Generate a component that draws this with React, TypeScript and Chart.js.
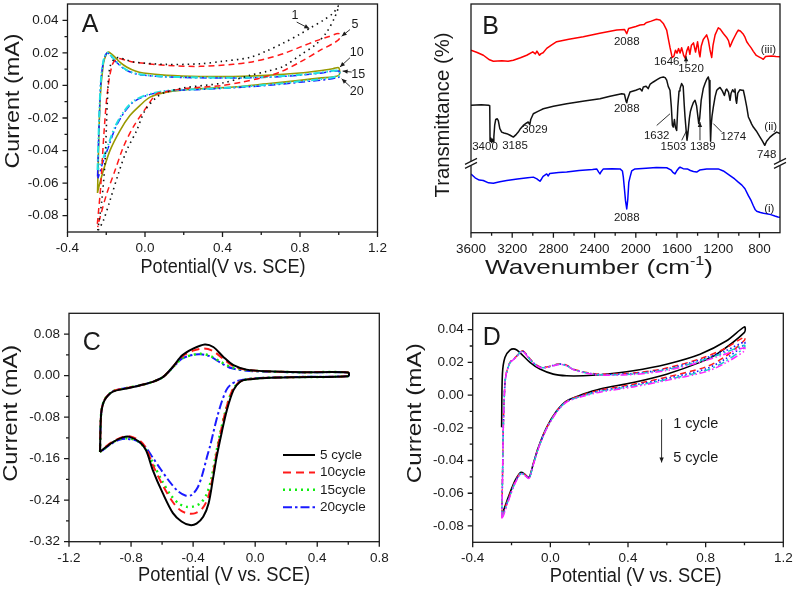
import React, { useEffect, useRef } from 'react';
import { Chart, registerables } from 'chart.js';

Chart.register(...registerables);

const FONT = "'Liberation Sans', Arial, Helvetica, sans-serif";
const INK = '#1a1a1a';

type Pt = [number, number];

// ---------------- Panel A data (potential V, current mA) ----------------
const A_CYCLE1: Pt[] = [
  [-0.244, -0.089], [-0.223, -0.0708], [-0.206, -0.046], [-0.194, -0.0092], [-0.181, 0.0113], [-0.147, 0.017],
  [-0.061, 0.0144], [0.112, 0.0129], [0.284, 0.0133], [0.4, 0.0148], [0.542, 0.0172], [0.628, 0.0212],
  [0.714, 0.026], [0.8, 0.0315], [0.852, 0.0352], [0.92, 0.04], [0.972, 0.0445], [1.0, 0.049],
  [0.98, 0.042], [0.938, 0.0328], [0.886, 0.0256], [0.8, 0.0185], [0.714, 0.0117], [0.628, 0.0086],
  [0.542, 0.0062], [0.4, 0.0015], [0.2, -0.0015], [0.1, -0.0045], [0.06, -0.0072], [0.0, -0.0154],
  [-0.043, -0.0277], [-0.095, -0.04], [-0.138, -0.0544], [-0.181, -0.0708], [-0.215, -0.083], [-0.241, -0.089],
];
const A_CYCLE5: Pt[] = [
  [-0.246, -0.085], [-0.229, -0.0626], [-0.212, -0.0297], [-0.195, -0.0051], [-0.17, 0.0123], [-0.144, 0.0165],
  [-0.1, 0.0155], [-0.061, 0.0144], [0.112, 0.0123], [0.284, 0.0117], [0.456, 0.013], [0.542, 0.0143],
  [0.628, 0.0165], [0.714, 0.0195], [0.8, 0.0235], [0.886, 0.0275], [0.95, 0.03], [1.0, 0.0318],
  [1.0, 0.0281], [0.903, 0.0215], [0.8, 0.0143], [0.697, 0.0082], [0.594, 0.0045], [0.5, 0.002], [0.4, 0.0],
  [0.2, -0.002], [0.1, -0.0041], [0.06, -0.0051], [0.008, -0.0133], [-0.061, -0.0256], [-0.112, -0.0379],
  [-0.155, -0.0523], [-0.198, -0.0667], [-0.232, -0.081], [-0.244, -0.087],
];
const A_CYCLE10: Pt[] = [
  [-0.245, -0.066], [-0.232, -0.0092], [-0.215, 0.0133], [-0.2, 0.019], [-0.189, 0.0205], [-0.175, 0.0195],
  [-0.155, 0.0174], [-0.125, 0.0138], [-0.095, 0.0113], [-0.05, 0.0088], [-0.009, 0.0076], [0.112, 0.0062],
  [0.284, 0.0055], [0.456, 0.0055], [0.628, 0.0062], [0.8, 0.0076], [0.9, 0.009], [0.972, 0.0103], [1.0, 0.0109],
  [1.0, 0.0062], [0.9, 0.0045], [0.8, 0.0031], [0.628, 0.001], [0.456, -0.001], [0.284, -0.002], [0.112, -0.0041],
  [0.026, -0.0072], [-0.026, -0.0123], [-0.078, -0.0185], [-0.129, -0.0277], [-0.181, -0.04], [-0.215, -0.0523],
  [-0.241, -0.0636], [-0.245, -0.066],
];
const A_CYCLE15: Pt[] = [
  [-0.245, -0.052], [-0.236, -0.018], [-0.227, 0.004], [-0.214, 0.0155], [-0.2, 0.0198], [-0.19, 0.02],
  [-0.175, 0.0182], [-0.15, 0.0148], [-0.1, 0.0098], [-0.05, 0.0074], [0.0, 0.0064], [0.112, 0.0054],
  [0.284, 0.0049], [0.456, 0.0047], [0.628, 0.0052], [0.8, 0.0065], [0.9, 0.0078], [1.0, 0.009],
  [1.0, 0.0058], [0.8, 0.0025], [0.628, 0.0004], [0.456, -0.0012], [0.284, -0.0023], [0.112, -0.0033],
  [0.009, -0.0058], [-0.061, -0.0098], [-0.112, -0.0165], [-0.155, -0.0255], [-0.189, -0.0362],
  [-0.215, -0.0445], [-0.241, -0.051], [-0.245, -0.052],
];
const A_CYCLE20: Pt[] = [
  [-0.245, -0.056], [-0.236, -0.02], [-0.228, 0.002], [-0.215, 0.0145], [-0.2, 0.0195], [-0.19, 0.0198],
  [-0.175, 0.018], [-0.15, 0.0145], [-0.1, 0.0095], [-0.05, 0.0072], [0.0, 0.0062], [0.112, 0.0052],
  [0.284, 0.0047], [0.456, 0.0045], [0.628, 0.005], [0.8, 0.0063], [0.9, 0.0075], [1.0, 0.0088],
  [1.0, 0.005], [0.8, 0.002], [0.628, 0.0], [0.456, -0.0014], [0.284, -0.0025], [0.112, -0.0035],
  [0.009, -0.0062], [-0.061, -0.0103], [-0.112, -0.0174], [-0.155, -0.0267], [-0.189, -0.038],
  [-0.215, -0.0462], [-0.241, -0.0564], [-0.245, -0.057],
];
const A_X_MAJOR = [-0.4, 0, 0.4, 0.8, 1.2];
const A_X_MINOR = [-0.2, 0.2, 0.6, 1.0];
const A_Y_MAJOR = [-0.08, -0.06, -0.04, -0.02, 0, 0.02, 0.04];
const A_Y_MINOR = [-0.07, -0.05, -0.03, -0.01, 0.01, 0.03];
const A_LABELS = [
  { t: '1', x: 0.774, y: 0.0431 },
  { t: '5', x: 1.084, y: 0.0375 },
  { t: '10', x: 1.093, y: 0.0199 },
  { t: '15', x: 1.101, y: 0.0068 },
  { t: '20', x: 1.093, y: -0.0035 },
];
const A_LEADERS: [number, number, number, number][] = [
  [0.783, 0.0389, 0.848, 0.0349],
  [1.058, 0.0343, 1.015, 0.0302],
  [1.058, 0.017, 1.006, 0.0113],
  [1.067, 0.0082, 1.02, 0.0088],
  [1.058, -0.0006, 1.015, 0.0041],
];

// ---------------- Panel B data (wavenumber cm-1, transmittance a.u.) ----------------
const B_III: Pt[] = [
  [3600, 79.8], [3540, 78.8], [3480, 77.6], [3420, 75.6], [3383, 75.0], [3300, 75.2], [3240, 75.0], [3189, 75.4],
  [3120, 76.5], [3059, 77.6], [3000, 79.1], [2975, 78.2], [2960, 79.4], [2935, 77.6], [2920, 78.3], [2900, 78.7],
  [2865, 80.6], [2820, 82.0], [2768, 83.5], [2650, 84.6], [2510, 85.7], [2350, 87.2], [2185, 88.6], [2110, 88.9],
  [2088, 87.0], [2070, 89.3], [2000, 90.2], [1959, 90.8], [1920, 91.0], [1900, 91.8], [1850, 92.5], [1800, 93.3],
  [1765, 93.0], [1733, 91.5], [1700, 88.6], [1685, 85.0], [1668, 81.0], [1651, 77.5], [1646, 76.6], [1630, 77.2],
  [1615, 79.8], [1600, 78.5], [1585, 80.5], [1570, 78.6], [1555, 80.9], [1535, 77.5], [1520, 76.2], [1505, 79.5],
  [1490, 81.3], [1475, 78.0], [1460, 82.0], [1440, 83.0], [1420, 79.0], [1400, 83.5], [1385, 78.5], [1377, 76.9],
  [1365, 81.5], [1345, 84.5], [1312, 86.5], [1295, 84.0], [1280, 80.0], [1263, 76.6], [1250, 82.0], [1230, 86.5],
  [1199, 89.6], [1180, 89.0], [1150, 87.1], [1120, 85.5], [1100, 84.0], [1085, 81.3], [1060, 84.0], [1037, 86.0],
  [1020, 87.5], [1005, 88.6], [985, 88.2], [960, 87.0], [940, 85.5], [923, 83.5], [900, 82.0], [880, 80.8],
  [859, 79.3], [830, 77.5], [800, 76.8], [780, 76.3], [762, 75.8], [740, 77.0], [716, 77.2], [680, 77.3],
  [640, 77.0], [600, 76.9],
];
const B_II: Pt[] = [
  [3600, 55.7], [3500, 55.9], [3430, 55.7], [3418, 55.5], [3415, 40.0], [3410, 41.5], [3400, 39.5], [3395, 41.0],
  [3385, 39.8], [3378, 42.0], [3370, 47.0], [3360, 49.5], [3345, 49.8], [3335, 49.0], [3320, 45.5], [3302, 44.0],
  [3280, 43.6], [3253, 43.3], [3220, 42.6], [3189, 41.8], [3160, 43.0], [3141, 44.0], [3120, 45.5], [3092, 46.9],
  [3060, 48.0], [3044, 48.4], [3030, 47.2], [3020, 49.5], [2995, 52.0], [2960, 52.8], [2930, 53.5], [2898, 54.2],
  [2800, 55.3], [2671, 56.4], [2500, 57.6], [2348, 58.6], [2250, 59.7], [2137, 60.8], [2110, 60.5], [2095, 57.5],
  [2088, 56.8], [2080, 58.5], [2056, 61.5], [2000, 62.3], [1960, 63.0], [1940, 62.0], [1927, 63.7], [1900, 64.0],
  [1880, 63.0], [1860, 65.0], [1830, 65.9], [1790, 67.0], [1760, 67.8], [1733, 68.1], [1715, 67.8], [1700, 66.7],
  [1685, 64.0], [1668, 62.3], [1655, 55.0], [1645, 47.0], [1636, 46.2], [1625, 49.5], [1615, 46.0], [1603, 44.7],
  [1592, 55.0], [1580, 62.0], [1571, 63.0], [1555, 65.2], [1540, 64.0], [1530, 56.0], [1522, 50.6], [1510, 44.0],
  [1503, 40.4], [1495, 43.0], [1480, 50.0], [1470, 53.0], [1457, 55.0], [1440, 57.0], [1425, 57.9], [1410, 55.5],
  [1395, 50.0], [1389, 47.7], [1380, 50.0], [1365, 58.0], [1345, 63.0], [1328, 65.2], [1312, 67.0], [1296, 68.1],
  [1288, 66.5], [1280, 52.0], [1274, 40.0], [1268, 47.0], [1260, 51.0], [1247, 55.0], [1230, 59.5], [1214, 62.3],
  [1198, 63.0], [1182, 63.5], [1160, 62.0], [1140, 60.0], [1125, 62.5], [1117, 62.8], [1100, 61.5], [1085, 57.9],
  [1075, 61.0], [1060, 62.5], [1045, 61.5], [1037, 62.8], [1028, 58.0], [1021, 56.6], [1010, 61.0], [990, 62.5],
  [970, 62.3], [956, 62.3], [940, 59.0], [923, 55.0], [907, 50.6], [890, 49.0], [875, 47.5], [859, 46.2],
  [830, 44.5], [794, 41.8], [770, 40.0], [748, 38.2], [730, 40.0], [697, 41.8], [665, 43.0], [632, 44.0], [600, 43.3],
];
const B_I: Pt[] = [
  [3600, 25.7], [3560, 24.0], [3520, 23.0], [3481, 22.8], [3430, 21.8], [3383, 21.6], [3320, 22.3], [3253, 22.8],
  [3150, 23.5], [3050, 24.0], [2995, 24.3], [2960, 23.5], [2945, 23.0], [2930, 22.5], [2915, 23.5], [2900, 24.6],
  [2865, 25.7], [2850, 24.8], [2835, 25.9], [2750, 26.3], [2671, 26.5], [2550, 27.2], [2420, 27.6], [2380, 27.9],
  [2360, 26.5], [2348, 25.7], [2335, 26.8], [2315, 27.9], [2230, 28.0], [2153, 27.9], [2130, 27.0], [2121, 24.3],
  [2110, 19.0], [2100, 14.0], [2088, 10.4], [2078, 14.5], [2068, 22.0], [2056, 24.3], [2040, 27.0], [2008, 27.9],
  [1900, 28.2], [1800, 28.5], [1700, 28.4], [1660, 27.5], [1640, 26.4], [1619, 25.7], [1600, 27.2], [1580, 28.4],
  [1571, 28.7], [1540, 28.0], [1500, 27.9], [1470, 27.2], [1440, 26.8], [1409, 26.5], [1380, 27.4], [1312, 27.9],
  [1200, 27.9], [1150, 27.0], [1085, 25.0], [1040, 23.5], [1005, 22.1], [970, 20.8], [940, 19.2], [907, 16.2],
  [880, 14.0], [859, 11.8], [840, 10.0], [826, 9.4], [790, 8.8], [760, 8.5], [729, 8.3], [690, 7.9], [650, 7.3],
  [620, 6.9], [600, 6.7],
];
const B_X_MAJOR = [3600, 3200, 2800, 2400, 2000, 1600, 1200, 800];
const B_X_MINOR = [3400, 3000, 2600, 2200, 1800, 1400, 1000];
const B_LABELS = [
  { t: '2088', x: 2088, y: 83.5 }, { t: '1646', x: 1700, y: 74.5 }, { t: '1520', x: 1464, y: 71.5 },
  { t: '(iii)', x: 713, y: 79.8 }, { t: '2088', x: 2088, y: 54.2 }, { t: '3400', x: 3464, y: 37.4 },
  { t: '3185', x: 3173, y: 37.8 }, { t: '3029', x: 2979, y: 45.0 }, { t: '1632', x: 1797, y: 42.5 },
  { t: '1503', x: 1635, y: 37.4 }, { t: '1389', x: 1350, y: 37.4 }, { t: '1274', x: 1053, y: 42.1 },
  { t: '(ii)', x: 690, y: 46.5 }, { t: '748', x: 729, y: 34.2 }, { t: '2088', x: 2088, y: 6.7 },
  { t: '(i)', x: 704, y: 10.4 },
];
const B_LEADERS: [number, number, number, number, number][] = [
  [1797, 46.9, 1668, 52.0, 0],
  [1554, 40.4, 1506, 44.7, 0],
  [1377, 40.4, 1377, 48.4, 1],
  [1166, 44.0, 1247, 47.7, 0],
  [1512, 74.0, 1512, 77.2, 1],
];
const B_BREAK_LEVEL = 30.3;

// ---------------- Panel C data ----------------
const C_5: Pt[] = [
  [-1.0, -0.147], [-0.996, -0.092], [-0.99, -0.067], [-0.97, -0.047], [-0.917, -0.031], [-0.83, -0.025],
  [-0.745, -0.019], [-0.66, -0.012], [-0.595, -0.003], [-0.53, 0.017], [-0.47, 0.039], [-0.4, 0.052],
  [-0.325, 0.06], [-0.27, 0.055], [-0.205, 0.036], [-0.14, 0.02], [-0.055, 0.0115], [0.074, 0.0083],
  [0.29, 0.0064], [0.6, 0.006],
  [0.6, -0.0013], [0.29, -0.003], [0.074, -0.0045], [-0.055, -0.0077], [-0.097, -0.012], [-0.14, -0.028],
  [-0.183, -0.067], [-0.216, -0.11], [-0.248, -0.156], [-0.27, -0.195], [-0.3, -0.246], [-0.335, -0.272],
  [-0.378, -0.285], [-0.42, -0.288], [-0.475, -0.281], [-0.53, -0.265], [-0.595, -0.227], [-0.66, -0.182],
  [-0.703, -0.144], [-0.745, -0.128], [-0.81, -0.118], [-0.853, -0.119], [-0.917, -0.128], [-0.98, -0.142],
  [-1.0, -0.147],
];
const C_10: Pt[] = [
  [-1.0, -0.147], [-0.996, -0.092], [-0.99, -0.066], [-0.97, -0.046], [-0.917, -0.03], [-0.83, -0.024],
  [-0.745, -0.019], [-0.66, -0.012], [-0.595, -0.003], [-0.53, 0.017], [-0.47, 0.037], [-0.4, 0.048],
  [-0.33, 0.052], [-0.27, 0.047], [-0.205, 0.032], [-0.14, 0.018], [-0.055, 0.011], [0.074, 0.0083],
  [0.29, 0.0066], [0.6, 0.006],
  [0.6, -0.001], [0.29, -0.0028], [0.074, -0.0043], [-0.055, -0.0075], [-0.105, -0.013], [-0.15, -0.03],
  [-0.19, -0.067], [-0.223, -0.11], [-0.253, -0.156], [-0.277, -0.2], [-0.305, -0.236], [-0.34, -0.256],
  [-0.385, -0.265], [-0.43, -0.266], [-0.48, -0.26], [-0.53, -0.244], [-0.595, -0.212], [-0.66, -0.172],
  [-0.703, -0.14], [-0.745, -0.125], [-0.81, -0.117], [-0.853, -0.118], [-0.917, -0.127], [-0.98, -0.141],
  [-1.0, -0.147],
];
const C_15: Pt[] = [
  [-1.0, -0.147], [-0.996, -0.092], [-0.99, -0.066], [-0.97, -0.046], [-0.917, -0.03], [-0.83, -0.024],
  [-0.745, -0.019], [-0.66, -0.012], [-0.595, -0.003], [-0.53, 0.016], [-0.47, 0.033], [-0.4, 0.04],
  [-0.35, 0.042], [-0.29, 0.038], [-0.22, 0.026], [-0.15, 0.016], [-0.055, 0.0105], [0.074, 0.008],
  [0.29, 0.0065], [0.6, 0.006],
  [0.6, -0.001], [0.29, -0.0028], [0.074, -0.0043], [-0.055, -0.0075], [-0.105, -0.013], [-0.15, -0.03],
  [-0.19, -0.067], [-0.225, -0.11], [-0.256, -0.156], [-0.282, -0.198], [-0.312, -0.228], [-0.35, -0.245],
  [-0.395, -0.252], [-0.44, -0.253], [-0.49, -0.247], [-0.54, -0.232], [-0.6, -0.203], [-0.66, -0.168],
  [-0.71, -0.14], [-0.76, -0.126], [-0.82, -0.121], [-0.87, -0.122], [-0.93, -0.131], [-0.98, -0.143],
  [-1.0, -0.147],
];
const C_20: Pt[] = [
  [-1.0, -0.147], [-0.996, -0.092], [-0.99, -0.066], [-0.97, -0.046], [-0.917, -0.03], [-0.83, -0.024],
  [-0.745, -0.019], [-0.66, -0.012], [-0.595, -0.003], [-0.53, 0.016], [-0.47, 0.033], [-0.4, 0.04],
  [-0.35, 0.041], [-0.29, 0.037], [-0.22, 0.024], [-0.15, 0.014], [-0.055, 0.0095], [0.074, 0.0075],
  [0.29, 0.0062], [0.6, 0.0058],
  [0.6, -0.0008], [0.29, -0.0025], [0.074, -0.004], [-0.055, -0.0068], [-0.12, -0.011], [-0.16, -0.018],
  [-0.186, -0.028], [-0.215, -0.05], [-0.245, -0.08], [-0.27, -0.11], [-0.29, -0.135], [-0.31, -0.156],
  [-0.34, -0.19], [-0.37, -0.215], [-0.41, -0.23], [-0.45, -0.231], [-0.5, -0.222], [-0.55, -0.205],
  [-0.61, -0.18], [-0.66, -0.158], [-0.71, -0.137], [-0.76, -0.126], [-0.82, -0.122], [-0.87, -0.123],
  [-0.93, -0.132], [-0.98, -0.143], [-1.0, -0.147],
];
const C_X_MAJOR = [-1.2, -0.8, -0.4, 0, 0.4, 0.8];
const C_X_MINOR = [-1.0, -0.6, -0.2, 0.2, 0.6];
const C_Y_MAJOR = [-0.32, -0.24, -0.16, -0.08, 0, 0.08];
const C_Y_MINOR = [-0.28, -0.2, -0.12, -0.04, 0.04];
const C_LEGEND = ['5 cycle', '10cycle', '15cycle', '20cycle'];

// ---------------- Panel D data ----------------
const D_1: Pt[] = [
  [-0.251, -0.0197], [-0.247, 0.0128], [-0.234, 0.023], [-0.208, 0.0275], [-0.182, 0.0281], [-0.157, 0.026],
  [-0.105, 0.02], [-0.054, 0.0159], [0.015, 0.0128], [0.084, 0.0118], [0.17, 0.0118], [0.256, 0.0124],
  [0.427, 0.0149], [0.599, 0.0189], [0.771, 0.025], [0.908, 0.0332], [1.0, 0.0417],
  [1.0, 0.0383], [0.857, 0.025], [0.771, 0.02], [0.599, 0.0128], [0.427, 0.0077], [0.256, 0.0037],
  [0.17, 0.0006], [0.084, -0.0035], [0.033, -0.0096], [-0.019, -0.0197], [-0.062, -0.032], [-0.088, -0.042],
  [-0.105, -0.0493], [-0.114, -0.0503], [-0.135, -0.048], [-0.153, -0.0472], [-0.182, -0.0523],
  [-0.217, -0.0625], [-0.242, -0.0706], [-0.251, -0.0717],
];
const D_2: Pt[] = [
  [-0.25, -0.0735], [-0.245, -0.04], [-0.242, -0.0177], [-0.235, 0.005], [-0.228, 0.0128], [-0.208, 0.02],
  [-0.185, 0.0225], [-0.165, 0.025], [-0.15, 0.027], [-0.135, 0.0265], [-0.114, 0.0235], [-0.088, 0.02],
  [-0.054, 0.0173], [-0.019, 0.0172], [0.015, 0.0183], [0.049, 0.0192], [0.084, 0.0183], [0.119, 0.0159],
  [0.187, 0.0138], [0.256, 0.0128], [0.427, 0.0135], [0.599, 0.0165], [0.771, 0.0222], [0.9, 0.0285], [1.0, 0.0355],
  [1.0, 0.0335], [0.9, 0.0235], [0.8, 0.0172], [0.6, 0.011], [0.427, 0.0066], [0.256, 0.003], [0.17, 0.0002],
  [0.084, -0.0037], [0.033, -0.0098], [-0.019, -0.02], [-0.062, -0.0322], [-0.088, -0.0422], [-0.105, -0.0494],
  [-0.114, -0.0503], [-0.135, -0.0482], [-0.153, -0.0475], [-0.182, -0.053], [-0.217, -0.0635],
  [-0.242, -0.0718], [-0.25, -0.0735],
];
const D_3: Pt[] = [
  [-0.25, -0.0742], [-0.245, -0.04], [-0.242, -0.018], [-0.235, 0.005], [-0.228, 0.0126], [-0.208, 0.0198],
  [-0.185, 0.0224], [-0.165, 0.0249], [-0.15, 0.0268], [-0.135, 0.0263], [-0.114, 0.0233], [-0.088, 0.0198],
  [-0.054, 0.0171], [-0.019, 0.017], [0.015, 0.0182], [0.049, 0.019], [0.084, 0.0181], [0.119, 0.0157],
  [0.187, 0.0136], [0.256, 0.0126], [0.427, 0.0132], [0.599, 0.016], [0.771, 0.0215], [0.9, 0.027], [1.0, 0.0325],
  [1.0, 0.031], [0.9, 0.022], [0.8, 0.016], [0.6, 0.0102], [0.427, 0.006], [0.256, 0.0026], [0.17, -0.0001],
  [0.084, -0.0039], [0.033, -0.01], [-0.019, -0.0202], [-0.062, -0.0324], [-0.088, -0.0424], [-0.105, -0.0496],
  [-0.114, -0.0505], [-0.135, -0.0484], [-0.153, -0.0478], [-0.182, -0.0534], [-0.217, -0.064],
  [-0.242, -0.0725], [-0.25, -0.0742],
];
const D_4: Pt[] = [
  [-0.25, -0.0748], [-0.245, -0.04], [-0.242, -0.0182], [-0.235, 0.0048], [-0.228, 0.0125], [-0.208, 0.0197],
  [-0.185, 0.0223], [-0.165, 0.0248], [-0.15, 0.0266], [-0.135, 0.0261], [-0.114, 0.0231], [-0.088, 0.0197],
  [-0.054, 0.017], [-0.019, 0.0169], [0.015, 0.018], [0.049, 0.0188], [0.084, 0.018], [0.119, 0.0156],
  [0.187, 0.0135], [0.256, 0.0124], [0.427, 0.0129], [0.599, 0.0155], [0.771, 0.0208], [0.9, 0.026], [1.0, 0.0305],
  [1.0, 0.029], [0.9, 0.0205], [0.8, 0.015], [0.6, 0.0095], [0.427, 0.0055], [0.256, 0.0022], [0.17, -0.0004],
  [0.084, -0.0041], [0.033, -0.0102], [-0.019, -0.0204], [-0.062, -0.0326], [-0.088, -0.0426], [-0.105, -0.0498],
  [-0.114, -0.0507], [-0.135, -0.0486], [-0.153, -0.048], [-0.182, -0.0537], [-0.217, -0.0645],
  [-0.242, -0.073], [-0.25, -0.0748],
];
const D_5: Pt[] = [
  [-0.25, -0.0755], [-0.245, -0.04], [-0.242, -0.0185], [-0.235, 0.0046], [-0.228, 0.0124], [-0.208, 0.0196],
  [-0.185, 0.0222], [-0.165, 0.0247], [-0.15, 0.0265], [-0.135, 0.026], [-0.114, 0.023], [-0.088, 0.0196],
  [-0.054, 0.0169], [-0.019, 0.0168], [0.015, 0.0179], [0.049, 0.0187], [0.084, 0.0179], [0.119, 0.0155],
  [0.187, 0.0133], [0.256, 0.0122], [0.427, 0.0126], [0.599, 0.015], [0.771, 0.0201], [0.9, 0.025], [1.0, 0.029],
  [1.0, 0.027], [0.9, 0.0195], [0.8, 0.0142], [0.6, 0.009], [0.427, 0.005], [0.256, 0.0018], [0.17, -0.0007],
  [0.084, -0.0043], [0.033, -0.0104], [-0.019, -0.0206], [-0.062, -0.0328], [-0.088, -0.0428], [-0.105, -0.05],
  [-0.114, -0.0509], [-0.135, -0.0488], [-0.153, -0.0482], [-0.182, -0.054], [-0.217, -0.065],
  [-0.242, -0.0738], [-0.25, -0.0755],
];
const D_X_MAJOR = [-0.4, 0, 0.4, 0.8, 1.2];
const D_X_MINOR = [-0.2, 0.2, 0.6, 1.0];
const D_Y_MAJOR = [-0.08, -0.06, -0.04, -0.02, 0, 0.02, 0.04];
const D_Y_MINOR = [-0.07, -0.05, -0.03, -0.01, 0.01, 0.03];
const D_ARROW: [number, number, number] = [0.573, -0.0147, -0.0412];
const D_TEXTS = [
  { t: '1 cycle', x: 0.633, y: -0.0177 },
  { t: '5 cycle', x: 0.633, y: -0.0387 },
];

// ---------------- drawing helpers ----------------
type Series = { data: Pt[]; color: string; width: number; dash: number[] };
type Ctx = CanvasRenderingContext2D;

function txt(ctx: Ctx, t: string, x: number, y: number, size: number, align: CanvasTextAlign = 'center') {
  ctx.save();
  ctx.font = `${size}px ${FONT}`;
  ctx.fillStyle = INK;
  ctx.textAlign = align;
  ctx.textBaseline = 'middle';
  ctx.fillText(t, x, y);
  ctx.restore();
}

function stretched(ctx: Ctx, parts: [string, number, number][], x: number, y: number, len: number, vertical: boolean) {
  ctx.save();
  ctx.translate(x, y);
  if (vertical) ctx.rotate(-Math.PI / 2);
  let total = 0;
  const widths = parts.map(([t, s]) => {
    ctx.font = `${s}px ${FONT}`;
    const w = ctx.measureText(t).width;
    total += w;
    return w;
  });
  ctx.scale(len / total, 1);
  ctx.fillStyle = INK;
  ctx.textAlign = 'left';
  ctx.textBaseline = 'middle';
  let cx = -total / 2;
  parts.forEach(([t, s, dy], i) => {
    ctx.font = `${s}px ${FONT}`;
    ctx.fillText(t, cx, dy);
    cx += widths[i];
  });
  ctx.restore();
}

function leader(ctx: Ctx, x1: number, y1: number, x2: number, y2: number, head: boolean) {
  ctx.save();
  ctx.strokeStyle = INK;
  ctx.fillStyle = INK;
  ctx.lineWidth = 0.9;
  ctx.beginPath();
  ctx.moveTo(x1, y1);
  ctx.lineTo(x2, y2);
  ctx.stroke();
  if (head) {
    const a = Math.atan2(y2 - y1, x2 - x1);
    const L = 5, W = 2.2;
    ctx.beginPath();
    ctx.moveTo(x2, y2);
    ctx.lineTo(x2 - L * Math.cos(a) + W * Math.sin(a), y2 - L * Math.sin(a) - W * Math.cos(a));
    ctx.lineTo(x2 - L * Math.cos(a) - W * Math.sin(a), y2 - L * Math.sin(a) + W * Math.cos(a));
    ctx.closePath();
    ctx.fill();
  }
  ctx.restore();
}

type Conv = (v: number) => number;
type Loc = (x: number, y: number) => [number, number];

interface PanelSpec {
  box: [number, number, number, number];
  plot: [number, number, number, number];
  x: { min: number; max: number; reverse?: boolean; major: number[]; minor: number[]; fmt: (v: number) => string };
  y: { min: number; max: number; major: number[]; minor: number[]; fmt: ((v: number) => string) | null };
  series: Series[];
  tension: number;
  draw: (ctx: Ctx, X: Conv, Y: Conv, L: Loc) => void;
}

const fmt1 = (v: number) => v.toFixed(1);
const fmt2 = (v: number) => v.toFixed(2);
const TITLE = 20;

const PANELS: PanelSpec[] = [
  {
    box: [0, 0, 397, 290],
    plot: [67.5, 4, 377.5, 232],
    x: { min: -0.4, max: 1.2, major: A_X_MAJOR, minor: A_X_MINOR, fmt: fmt1 },
    y: { min: -0.09, max: 0.05, major: A_Y_MAJOR, minor: A_Y_MINOR, fmt: fmt2 },
    tension: 0.3,
    series: [
      { data: A_CYCLE1, color: '#111111', width: 1.6, dash: [1.5, 4] },
      { data: A_CYCLE5, color: '#ff1a1a', width: 1.5, dash: [6, 4] },
      { data: A_CYCLE15, color: '#22e0e0', width: 2, dash: [7, 2.5, 1.5, 2.5, 1.5, 2.5] },
      { data: A_CYCLE20, color: '#1a1aff', width: 1.5, dash: [7, 3, 2, 3] },
      { data: A_CYCLE10, color: '#999900', width: 1.6, dash: [] },
    ],
    draw: (ctx, X, Y, L) => {
      stretched(ctx, [['Current (mA)', TITLE, 0]], ...L(13.3, 101), 135, true);
      stretched(ctx, [['Potential(V vs. SCE)', TITLE, 0]], ...L(223, 267), 165, false);
      txt(ctx, 'A', ...L(90, 25), 25);
      A_LABELS.forEach((l) => txt(ctx, l.t, X(l.x), Y(l.y), 12.5));
      A_LEADERS.forEach(([x1, y1, x2, y2]) => leader(ctx, X(x1), Y(y1), X(x2), Y(y2), true));
    },
  },
  {
    box: [397, 0, 398, 290],
    plot: [471, 4, 780, 232.7],
    x: { min: 600, max: 3600, reverse: true, major: B_X_MAJOR, minor: B_X_MINOR, fmt: (v) => String(v) },
    y: { min: 0, max: 100, major: [], minor: [], fmt: null },
    tension: 0,
    series: [
      { data: B_III, color: '#ff0000', width: 1.5, dash: [] },
      { data: B_II, color: '#111111', width: 1.5, dash: [] },
      { data: B_I, color: '#0000ff', width: 1.5, dash: [] },
    ],
    draw: (ctx, X, Y, L) => {
      stretched(ctx, [['Transmittance (%)', TITLE, 0]], ...L(443.3, 115), 165, true);
      stretched(ctx, [['Wavenumber (cm', 21, 0], ['-1', 13, -7], [')', 21, 0]], ...L(599, 268), 228, false);
      txt(ctx, 'B', ...L(490.7, 26.7), 25);
      B_LABELS.forEach((l) => txt(ctx, l.t, X(l.x), Y(l.y), 11.5));
      B_LEADERS.forEach(([x1, y1, x2, y2, h]) => leader(ctx, X(x1), Y(y1), X(x2), Y(y2), h === 1));
      [3600, 600].forEach((wx) => {
        const cx = X(wx), cy = Y(B_BREAK_LEVEL);
        ctx.save();
        ctx.fillStyle = '#ffffff';
        ctx.fillRect(cx - 2, cy - 2, 4, 4);
        ctx.strokeStyle = INK;
        ctx.lineWidth = 1.2;
        ctx.beginPath();
        [-2, 2].forEach((d) => {
          ctx.moveTo(cx - 6, cy + d + 3);
          ctx.lineTo(cx + 6, cy + d - 3);
        });
        ctx.stroke();
        ctx.restore();
      });
    },
  },
  {
    box: [0, 290, 397, 303],
    plot: [69, 313.3, 379.3, 541.7],
    x: { min: -1.2, max: 0.8, major: C_X_MAJOR, minor: C_X_MINOR, fmt: fmt1 },
    y: { min: -0.32, max: 0.12, major: C_Y_MAJOR, minor: C_Y_MINOR, fmt: fmt2 },
    tension: 0.3,
    series: [
      { data: C_5, color: '#000000', width: 2, dash: [] },
      { data: C_10, color: '#ff1a1a', width: 2, dash: [8, 5] },
      { data: C_15, color: '#11ee11', width: 2.4, dash: [2, 4] },
      { data: C_20, color: '#1a1aff', width: 2, dash: [9, 3, 2.5, 3] },
    ],
    draw: (ctx, X, Y, L) => {
      stretched(ctx, [['Current (mA)', TITLE, 0]], ...L(11.7, 413.3), 137, true);
      stretched(ctx, [['Potential (V vs. SCE)', TITLE, 0]], ...L(224, 575), 172, false);
      txt(ctx, 'C', ...L(91.7, 343.3), 25);
      const styles = [
        { color: '#000000', width: 2, dash: [] as number[] },
        { color: '#ff1a1a', width: 2, dash: [8, 5] },
        { color: '#11ee11', width: 2.4, dash: [2, 4] },
        { color: '#1a1aff', width: 2, dash: [9, 3, 2.5, 3] },
      ];
      C_LEGEND.forEach((label, i) => {
        const [lx, ly] = L(283, 455 + i * 17.4);
        ctx.save();
        ctx.strokeStyle = styles[i].color;
        ctx.lineWidth = styles[i].width;
        ctx.setLineDash(styles[i].dash);
        ctx.beginPath();
        ctx.moveTo(lx, ly);
        ctx.lineTo(lx + 32, ly);
        ctx.stroke();
        ctx.restore();
        txt(ctx, label, lx + 37, ly, 13.5, 'left');
      });
    },
  },
  {
    box: [397, 290, 398, 303],
    plot: [472.7, 313.3, 783.3, 542.3],
    x: { min: -0.4, max: 1.2, major: D_X_MAJOR, minor: D_X_MINOR, fmt: fmt1 },
    y: { min: -0.09, max: 0.05, major: D_Y_MAJOR, minor: D_Y_MINOR, fmt: fmt2 },
    tension: 0.3,
    series: [
      { data: D_5, color: '#ff22ff', width: 1.5, dash: [7, 2.5, 1.5, 2.5, 1.5, 2.5] },
      { data: D_4, color: '#11cccc', width: 1.5, dash: [7, 3, 2, 3] },
      { data: D_3, color: '#1a1aff', width: 1.6, dash: [1.5, 2.5] },
      { data: D_2, color: '#ff1a1a', width: 1.5, dash: [6, 4] },
      { data: D_1, color: '#000000', width: 1.6, dash: [] },
    ],
    draw: (ctx, X, Y, L) => {
      stretched(ctx, [['Current (mA)', TITLE, 0]], ...L(415, 413.3), 140, true);
      stretched(ctx, [['Potential (V vs. SCE)', TITLE, 0]], ...L(635.7, 576.7), 172, false);
      txt(ctx, 'D', ...L(491.7, 338.3), 25);
      leader(ctx, X(D_ARROW[0]), Y(D_ARROW[1]), X(D_ARROW[0]), Y(D_ARROW[2]), true);
      D_TEXTS.forEach((l) => txt(ctx, l.t, X(l.x), Y(l.y), 14.5, 'left'));
    },
  },
];

function Panel({ spec }: { spec: PanelSpec }) {
  const ref = useRef<HTMLCanvasElement>(null);
  useEffect(() => {
    const [bl, bt, bw, bh] = spec.box;
    const [pl, pt, pr, pb] = spec.plot;
    const yW = pl - bl;
    const xH = bt + bh - pb;
    const L: Loc = (x, y) => [x - bl, y - bt];
    const overlay = {
      id: 'overlay',
      afterDraw(chart: any) {
        const ctx: Ctx = chart.ctx;
        const a = chart.chartArea;
        const sx = chart.scales.x;
        const sy = chart.scales.y;
        const X = (v: number) => sx.getPixelForValue(v);
        const Y = (v: number) => sy.getPixelForValue(v);
        ctx.save();
        ctx.strokeStyle = INK;
        ctx.lineWidth = 1.3;
        ctx.strokeRect(a.left, a.top, a.right - a.left, a.bottom - a.top);
        ctx.beginPath();
        spec.x.major.forEach((v) => { const p = X(v); ctx.moveTo(p, a.bottom); ctx.lineTo(p, a.bottom + 5); });
        spec.x.minor.forEach((v) => { const p = X(v); ctx.moveTo(p, a.bottom); ctx.lineTo(p, a.bottom + 3); });
        spec.y.major.forEach((v) => { const p = Y(v); ctx.moveTo(a.left, p); ctx.lineTo(a.left - 5, p); });
        spec.y.minor.forEach((v) => { const p = Y(v); ctx.moveTo(a.left, p); ctx.lineTo(a.left - 3, p); });
        ctx.stroke();
        ctx.restore();
        spec.draw(ctx, X, Y, L);
      },
    };
    const tickFont = { family: FONT, size: 13.5 };
    const chart = new Chart(ref.current as HTMLCanvasElement, {
      type: 'line',
      data: {
        datasets: spec.series.map((s) => ({
          data: s.data.map(([x, y]) => ({ x, y })),
          borderColor: s.color,
          borderWidth: s.width,
          borderDash: s.dash,
          pointRadius: 0,
          fill: false,
          tension: spec.tension,
          borderJoinStyle: 'round' as const,
        })),
      },
      options: {
        animation: false,
        responsive: false,
        devicePixelRatio: 1,
        events: [],
        layout: { padding: { left: 0, top: pt - bt, right: bl + bw - pr, bottom: 0 } },
        plugins: { legend: { display: false }, tooltip: { enabled: false } },
        scales: {
          x: {
            type: 'linear',
            min: spec.x.min,
            max: spec.x.max,
            reverse: !!spec.x.reverse,
            grid: { display: false, drawTicks: false },
            border: { display: false },
            ticks: {
              padding: 8,
              font: tickFont,
              color: INK,
              maxRotation: 0,
              autoSkip: false,
              callback: (v: any) => spec.x.fmt(Number(v)),
            },
            afterBuildTicks: (s: any) => { s.ticks = spec.x.major.map((v) => ({ value: v })); },
            afterFit: (s: any) => { s.height = xH; s.paddingLeft = 0; s.paddingRight = 0; },
          },
          y: {
            type: 'linear',
            min: spec.y.min,
            max: spec.y.max,
            grid: { display: false, drawTicks: false },
            border: { display: false },
            ticks: {
              display: !!spec.y.fmt,
              padding: 9,
              font: tickFont,
              color: INK,
              autoSkip: false,
              callback: (v: any) => (spec.y.fmt ? spec.y.fmt(Number(v)) : ''),
            },
            afterBuildTicks: (s: any) => { s.ticks = spec.y.major.map((v) => ({ value: v })); },
            afterFit: (s: any) => { s.width = yW; s.paddingTop = 0; s.paddingBottom = 0; },
          },
        },
      } as any,
      plugins: [overlay],
    });
    return () => chart.destroy();
  }, [spec]);
  const [bl, bt, bw, bh] = spec.box;
  return (
    <canvas
      ref={ref}
      width={bw}
      height={bh}
      style={{ position: 'absolute', left: bl, top: bt, width: bw, height: bh }}
    />
  );
}

export default function App() {
  return (
    <div style={{ position: 'absolute', left: 0, top: 0, width: 795, height: 593, background: '#ffffff', overflow: 'hidden' }}>
      {PANELS.map((p, i) => (
        <Panel key={i} spec={p} />
      ))}
    </div>
  );
}
